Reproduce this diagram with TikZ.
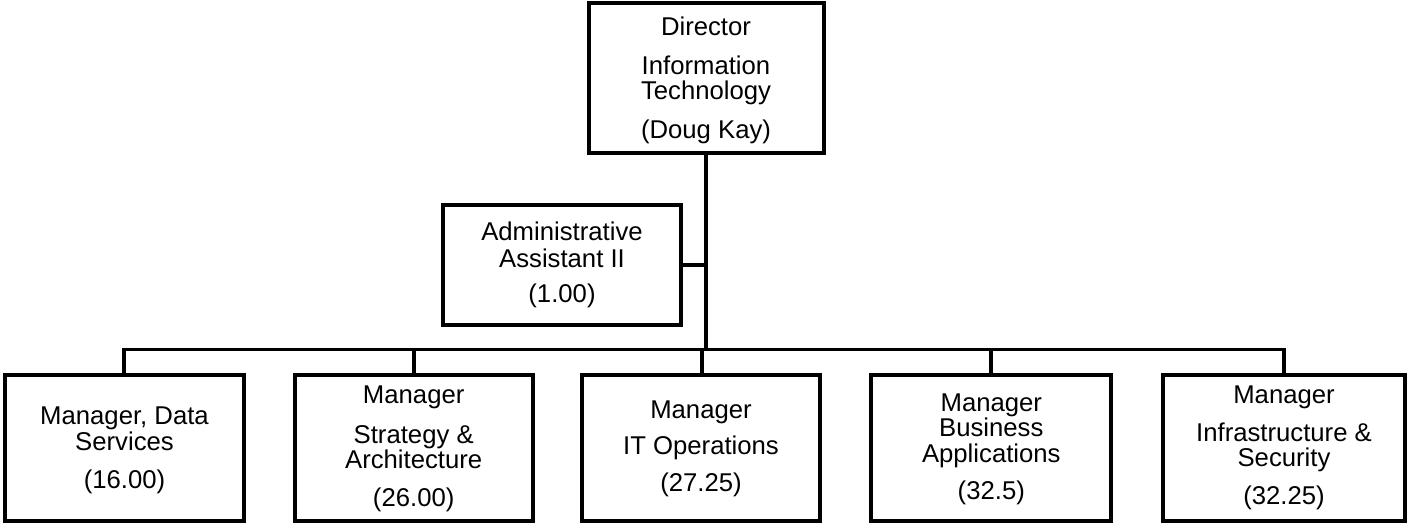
\documentclass[tikz,border=0pt]{standalone}
\usepackage{fontspec}
\setmainfont{Liberation Sans}
\newcommand{\boxfont}{\fontsize{25.7bp}{25.5bp}\selectfont}
\begin{document}
\begin{tikzpicture}[x=1bp,y=-1bp,
  orgbox/.style={draw, line width=4bp, inner sep=0pt, fill=white},
  boxtext/.style={inner sep=0pt, align=center, font=\boxfont},
  conn/.style={draw, line width=3.8bp, line join=miter}]
\useasboundingbox (0,0) rectangle (1408,523);
% boxes
\node[orgbox, minimum width=235bp, minimum height=150bp] (dir) at (706,78.5) {};
\node[orgbox, minimum width=238bp, minimum height=119bp] (adm) at (562,265) {};
\node[orgbox, minimum width=238bp, minimum height=146bp] (b1) at (124.5,447.6) {};
\node[orgbox, minimum width=238bp, minimum height=146bp] (b2) at (413.7,447.6) {};
\node[orgbox, minimum width=238bp, minimum height=146bp] (b3) at (701,447.6) {};
\node[orgbox, minimum width=240bp, minimum height=146bp] (b4) at (991.3,447.6) {};
\node[orgbox, minimum width=242bp, minimum height=146bp] (b5) at (1284,447.6) {};
% texts
\node[boxtext, yshift=-2bp] (dirT) at (dir.center)
  {Director\\[12.8bp]Information\\Technology\\[13.5bp](Doug Kay)};
\node[boxtext, yshift=0bp] (admT) at (adm.center)
  {Administrative\\[1.5bp]Assistant II\\[10bp](1.00)};
\node[boxtext, yshift=-2.6bp] (b1T) at (b1.center)
  {Manager, Data\\Services\\[12.5bp](16.00)};
\node[boxtext, yshift=-1.4bp] (b2T) at (b2.center)
  {Manager\\[14bp]Strategy \&\\Architecture\\[12bp](26.00)};
\node[boxtext, yshift=-0.9bp] (b3T) at (b3.center)
  {Manager\\[11bp]IT Operations\\[11bp](27.25)};
\node[boxtext, yshift=-1.4bp] (b4T) at (b4.center)
  {Manager\\Business\\Applications\\[11.5bp](32.5)};
\node[boxtext, yshift=0bp] (b5T) at (b5.center)
  {Manager\\[12.8bp]Infrastructure \&\\Security\\[12bp](32.25)};
% connectors
\coordinate (hub) at (706,349.5);
\coordinate (barL) at (124,349.5);
\coordinate (barR) at (1284,349.5);
\coordinate (b3top) at (702,374.6);
\draw[conn] (dir.south) -- (hub);
\draw[conn] (b1.north -| barL) -- (barL) -- (barR) -- (b5.north -| barR);
\draw[conn] (b2.north) -- (b2.north |- hub);
\draw[conn] (b3top) -- (b3top |- hub);
\draw[conn] (b4.north) -- (b4.north |- hub);
\draw[conn] (adm.east) -- (adm.east -| hub);
\end{tikzpicture}
\end{document}
